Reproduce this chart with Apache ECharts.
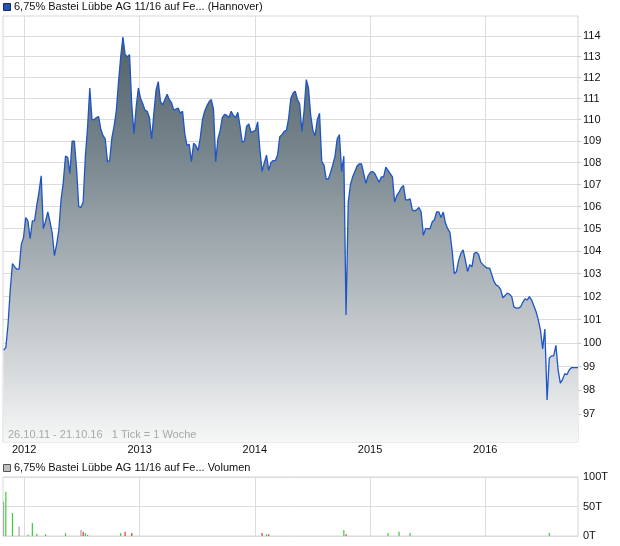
<!DOCTYPE html>
<html><head><meta charset="utf-8">
<script src="https://cdn.jsdelivr.net/npm/echarts@6/dist/echarts.min.js"></script>
<style>html,body{margin:0;padding:0;background:#fff}#c{width:620px;height:546px}</style>
</head><body><div id="c"></div>
<script>
// ---- data ----
const firstWeek = [2011, 9, 28];   // first weekly quote (local date, month 0-based)
const rangeStart = [2011, 9, 26];
const rangeEnd = [2016, 9, 21];
const prices = [
 99.7, 99.8, 100.8, 102.3, 103.45, 103.3, 103.2, 103.2, 104.3, 104.6,
 105.5, 105.35, 104.55, 105.35, 105.35, 106.05, 106.65, 107.4, 105.0, 105.35,
 105.75, 105.3, 104.8, 103.8, 104.3, 104.95, 106.3, 107.1, 108.3, 108.25,
 107.5, 109.0, 109.0, 107.75, 106.0, 105.95, 106.2, 108.3, 109.65, 111.5,
 110.0, 110.0, 110.1, 110.15, 109.55, 109.25, 109.1, 108.05, 108.1, 109.15,
 109.7, 110.4, 111.8, 113.0, 113.95, 113.1, 113.0, 113.1, 110.7, 109.35,
 110.6, 111.5, 111.0, 110.75, 110.45, 110.4, 110.1, 109.1, 110.3, 111.4,
 111.8, 110.85, 110.7, 110.95, 111.2, 110.95, 110.8, 110.45, 110.5, 110.55,
 110.3, 110.4, 109.35, 108.8, 108.85, 108.05, 108.9, 108.8, 108.55, 109.15,
 110.0, 110.4, 110.65, 110.85, 110.95, 110.5, 108.05, 109.1, 109.5, 110.1,
 110.25, 110.2, 110.1, 110.4, 110.2, 110.1, 110.35, 109.7, 108.95, 109.0,
 109.7, 109.8, 109.4, 109.45, 109.5, 109.9, 108.6, 107.6, 108.0, 108.35,
 107.65, 108.0, 108.1, 108.1, 108.35, 109.2, 109.3, 109.45, 109.5, 110.05,
 111.0, 111.25, 111.35, 110.95, 110.75, 109.45, 110.4, 111.9, 111.5, 110.2,
 109.5, 109.25, 110.0, 110.3, 108.05, 107.9, 107.25, 107.25, 107.55, 107.9,
 108.3, 109.1, 109.3, 107.6, 108.3, 101.2, 106.2, 107.0, 107.35, 107.6,
 107.85, 107.95, 107.95, 107.5, 107.05, 107.4, 107.55, 107.6, 107.5, 107.3,
 107.1, 107.35, 107.35, 107.8, 107.65, 107.5, 107.35, 106.2, 106.5, 106.65,
 106.85, 106.95, 106.3, 106.3, 106.35, 105.85, 105.8, 105.85, 105.95, 105.75,
 104.7, 105.0, 105.0, 105.0, 105.3, 105.4, 105.75, 105.75, 105.5, 105.75,
 105.25, 105.0, 104.85, 104.05, 103.0, 103.1, 103.6, 103.9, 104.05, 103.6,
 103.1, 103.4, 103.3, 103.9, 103.95, 103.85, 103.5, 103.4, 103.3, 103.25,
 103.25, 102.95, 102.65, 102.5, 102.45, 102.3, 101.95, 102.05, 102.15, 102.1,
 102.0, 101.55, 101.5, 101.5, 101.55, 101.75, 101.9, 101.85, 102.0, 101.85,
 101.6, 101.35, 101.0, 100.55, 99.75, 100.6, 97.6, 99.35, 99.45, 99.45,
 99.9, 98.85, 98.3, 98.45, 98.7, 98.65, 98.85, 98.95, 98.95, 98.95,
 98.95
];
const yearTicks = [2012, 2013, 2014, 2015, 2016];
const priceTicks = [97, 98, 99, 100, 101, 102, 103, 104, 105, 106, 107, 108, 109, 110, 111, 112, 113, 114];
const volDates = ['2011-10-28','2011-11-04','2011-11-25','2011-12-16','2012-01-13','2012-01-27','2012-02-10',
  '2012-03-09','2012-05-11','2012-06-29','2012-07-06','2012-07-13','2012-07-20','2012-11-02','2012-11-16',
  '2012-12-07','2014-01-24','2014-02-07','2014-02-14','2014-10-10','2014-10-17','2015-02-27','2015-04-03',
  '2015-05-08','2016-07-22'];
const volValues = [58, 75, 39, 16, 2, 22, 4, 3, 5, 10, 7, 5, 2, 5, 7, 5, 5, 3, 3, 10, 3, 5, 7, 5, 5];
const volKinds = ['flat','up','up','flat','up','up','up','up','up','flat','down','up','up','up','down',
  'down','down','up','down','up','down','up','up','up','up'];
const volTicks = [0, 50, 100];

// ---- build ----
const kindColor = {up: '#3ccc3c', down: '#d83a3a', flat: '#a8a8a8'};
const toTime = (y, m, d) => new Date(y, m, d).getTime();
const priceData = prices.map((v, i) => [toTime(firstWeek[0], firstWeek[1], firstWeek[2] + 7 * i), v]);
const volData = volDates.map((d, i) => {
  const p = d.split('-').map(Number);
  return {value: [toTime(p[0], p[1] - 1, p[2]), volValues[i]], itemStyle: {color: kindColor[volKinds[i]]}};
});
const xMin = toTime(rangeStart[0], rangeStart[1], rangeStart[2]);
const xMax = toTime(rangeEnd[0], rangeEnd[1], rangeEnd[2]);
const yearVals = yearTicks.map(y => toTime(y, 0, 1));

const FONT = '"Liberation Sans", Arial, sans-serif';
const gridLine = {show: true, lineStyle: {color: '#dcdcdc', width: 1}};

const chart = echarts.init(document.getElementById('c'), null, {renderer: 'canvas'});
chart.setOption({
  animation: false,
  backgroundColor: '#ffffff',
  textStyle: {fontFamily: FONT},
  grid: [
    {left: 3, top: 16, width: 575, height: 426, show: true, borderColor: '#d6d6d6', borderWidth: 1, containLabel: false},
    {left: 3, top: 477, width: 575, height: 59, show: true, borderColor: '#d6d6d6', borderWidth: 1, containLabel: false}
  ],
  xAxis: [
    {type: 'value', gridIndex: 0, min: xMin, max: xMax, scale: true,
     axisLine: {show: false}, axisTick: {show: false, customValues: yearVals},
     splitLine: gridLine,
     axisLabel: {customValues: yearVals, margin: 2, color: '#111', fontSize: 11, fontFamily: FONT,
       formatter: v => String(new Date(v).getFullYear())}},
    {type: 'value', gridIndex: 1, min: xMin, max: xMax, scale: true,
     axisLine: {show: false}, axisTick: {show: false, customValues: yearVals},
     splitLine: gridLine, axisLabel: {show: false, customValues: yearVals}}
  ],
  yAxis: [
    {type: 'log', gridIndex: 0, position: 'right', min: 95.86, max: 114.98, logBase: 10,
     axisLine: {show: false},
     axisTick: {show: true, length: 3, lineStyle: {color: '#cccccc'}, customValues: priceTicks},
     splitLine: gridLine,
     axisLabel: {customValues: priceTicks, margin: 5, color: '#111', fontSize: 11, fontFamily: FONT}},
    {type: 'value', gridIndex: 1, position: 'right', min: 0, max: 100,
     axisLine: {show: false}, axisTick: {show: false, customValues: volTicks},
     splitLine: gridLine,
     axisLabel: {customValues: volTicks, margin: 5, color: '#111', fontSize: 11, fontFamily: FONT, formatter: v => v + 'T'}}
  ],
  series: [
    {type: 'line', xAxisIndex: 0, yAxisIndex: 0, data: priceData, showSymbol: false, symbol: 'none',
     lineStyle: {color: '#1d55c6', width: 1.3},
     areaStyle: {origin: 'start', opacity: 1, color: new echarts.graphic.LinearGradient(0, 0, 0, 1, [
       {offset: 0, color: '#53616a'},
       {offset: 0.28, color: '#76848c'},
       {offset: 0.53, color: '#a3acb1'},
       {offset: 0.77, color: '#cdd1d4'},
       {offset: 1, color: '#f6f7f7'}])}},
    {type: 'bar', xAxisIndex: 1, yAxisIndex: 1, data: volData, barWidth: 1.2}
  ],
  graphic: [
    {type: 'rect', left: 3, top: 3, shape: {width: 7, height: 7},
     style: {fill: '#2454b8', stroke: '#1a2a55', lineWidth: 1}},
    {type: 'text', left: 14, top: 1, style: {text: '6,75% Bastei Lübbe AG 11/16 auf Fe... (Hannover)',
     font: '11px "Liberation Sans", Arial, sans-serif', fill: '#111'}},
    {type: 'rect', left: 3, top: 464, shape: {width: 7, height: 7},
     style: {fill: '#c0c0c0', stroke: '#555555', lineWidth: 1}},
    {type: 'text', left: 14, top: 462, style: {text: '6,75% Bastei Lübbe AG 11/16 auf Fe... Volumen',
     font: '11px "Liberation Sans", Arial, sans-serif', fill: '#111'}},
    {type: 'text', left: 8, top: 429, z: 10, style: {text: '26.10.11 - 21.10.16   1 Tick = 1 Woche',
     font: '11px "Liberation Sans", Arial, sans-serif', fill: '#a8a8a8'}}
  ]
});
</script></body></html>
